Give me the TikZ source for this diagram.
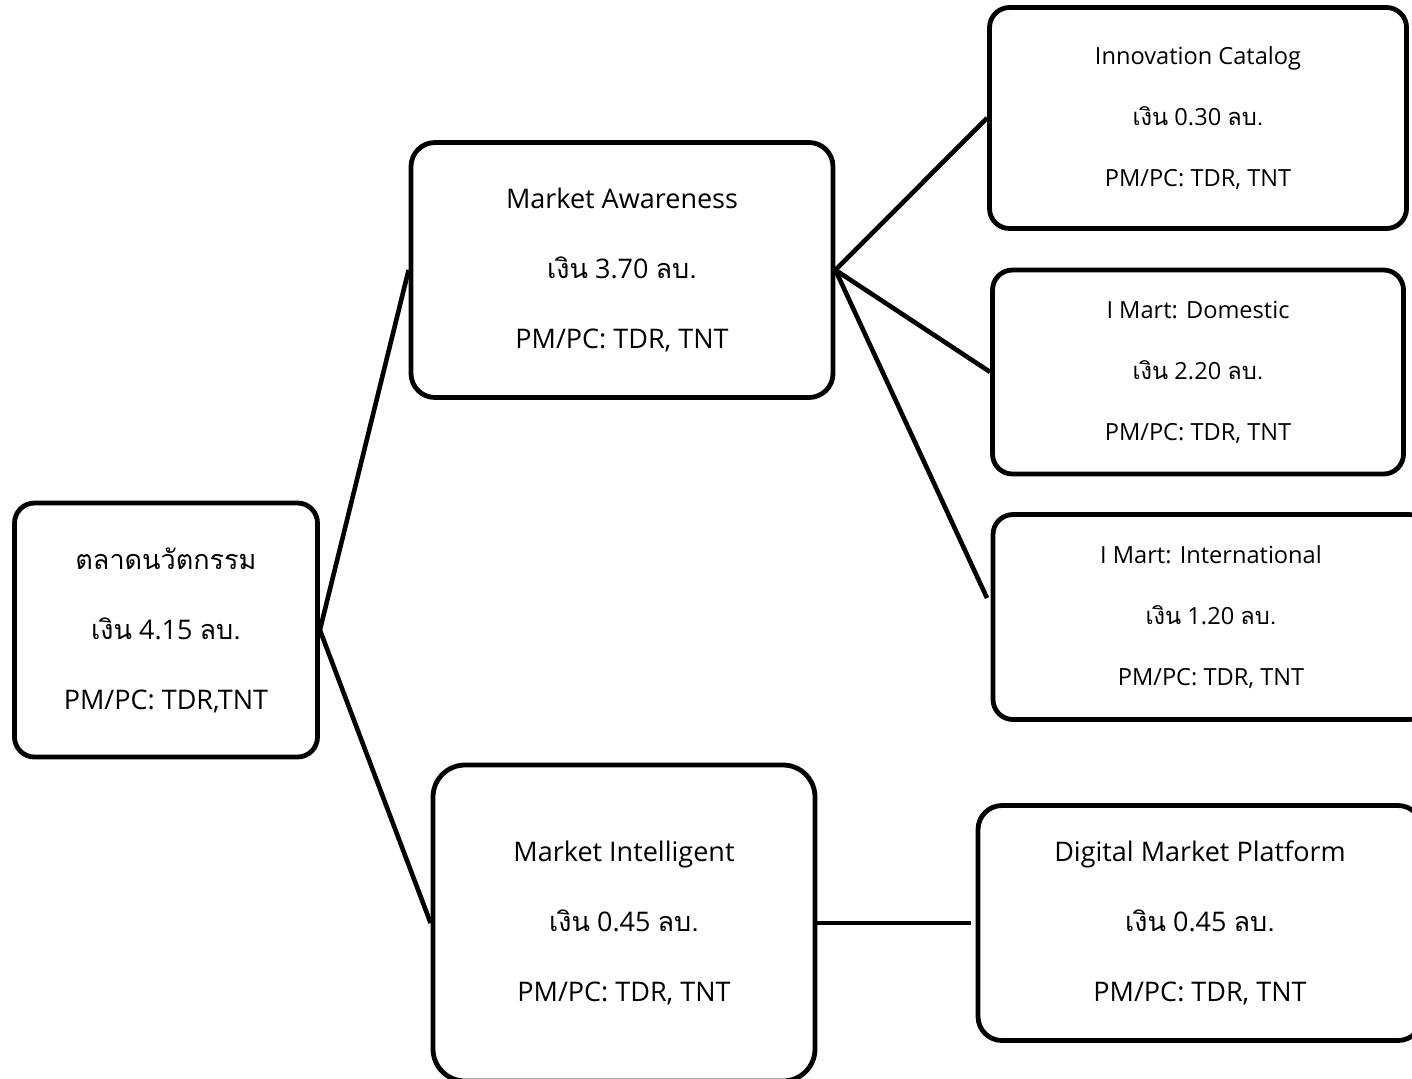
\documentclass[tikz,border=0pt]{standalone}
\usepackage{fontspec}
\setmainfont{Open Sans}
\newfontfamily\thaifont[Script=Thai]{Loma}
\newcommand{\thw}[1]{{\thaifont #1}}
\begin{document}
\begin{tikzpicture}[x=0.5pt,y=-0.5pt,
  box/.style={draw, line width=2.4pt, rounded corners=10pt, align=center, inner sep=0pt, fill=white},
  bigtext/.style={font=\fontsize{13.5}{35}\selectfont},
  smalltext/.style={font=\fontsize{11.8}{30.5}\selectfont},
  link/.style={line width=2.3pt}]
\fill[white] (0,0) rectangle (1412,1078);
\clip (0,0) rectangle (1412,1078);
\node[box,bigtext,minimum width=151.5pt,minimum height=127pt] (root) at (166,630)
  {\thw{ตลาดนวัตกรรม}\\\thw{เงิน} 4.15 \thw{ลบ.}\\PM/PC: TDR,TNT};
\node[box,bigtext,minimum width=211pt,minimum height=127.5pt,rounded corners=12pt] (ma) at (622,270)
  {Market Awareness\\\thw{เงิน} 3.70 \thw{ลบ.}\\PM/PC: TDR, TNT};
\node[box,smalltext,minimum width=208.5pt,minimum height=110.5pt] (ic) at (1198,118)
  {Innovation Catalog\\\thw{เงิน} 0.30 \thw{ลบ.}\\PM/PC: TDR, TNT};
\node[box,smalltext,minimum width=205.5pt,minimum height=102pt] (id) at (1198,372)
  {I Mart: Domestic\\\thw{เงิน} 2.20 \thw{ลบ.}\\PM/PC: TDR, TNT};
\node[box,smalltext,minimum width=218pt,minimum height=102.5pt] (im) at (1211,617)
  {I Mart: International\\\thw{เงิน} 1.20 \thw{ลบ.}\\PM/PC: TDR, TNT};
\node[box,bigtext,minimum width=191pt,minimum height=158pt,rounded corners=16pt] (mi) at (624,923)
  {Market Intelligent\\\thw{เงิน} 0.45 \thw{ลบ.}\\PM/PC: TDR, TNT};
\node[box,bigtext,minimum width=222pt,minimum height=117.5pt,rounded corners=12pt] (dmp) at (1200,923)
  {Digital Market Platform\\\thw{เงิน} 0.45 \thw{ลบ.}\\PM/PC: TDR, TNT};
\coordinate (imend) at (987,598);
\coordinate (dmpend) at (971,923);
\draw[link] (root.east) -- (ma.west);
\draw[link] (root.east) -- (mi.west);
\draw[link] (ma.east) -- (ic.west);
\draw[link] (ma.east) -- (id.west);
\draw[link] (ma.east) -- (imend);
\draw[link] (mi.east) -- (dmpend);
\end{tikzpicture}
\end{document}
